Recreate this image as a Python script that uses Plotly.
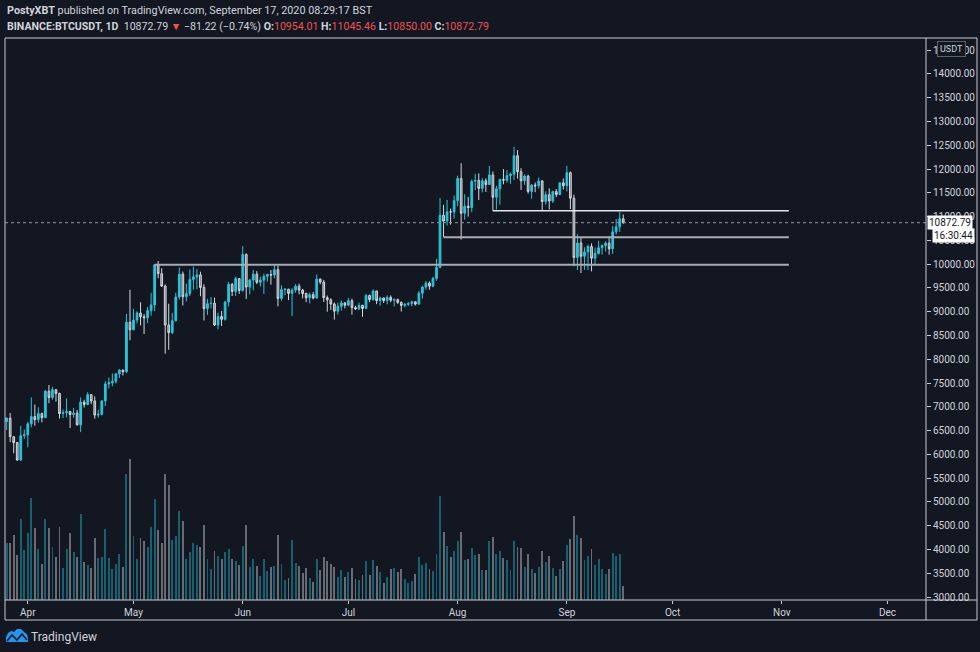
import pandas as pd
import plotly.graph_objects as go

# ---------------- data ----------------
start_date = "2020-03-26"
end_date = "2020-09-17"

opens = [6690, 6759, 6372, 6250, 5881, 6394,
         6410, 6642, 6794, 6734, 6857, 6772, 7329, 7197, 7361, 7283, 6858, 6876, 6903, 6838, 6868,
         6621, 7100, 7047, 7257, 7123, 6826, 6842, 7125, 7482, 7505, 7538, 7693, 7774, 7738, 8778,
         8620, 8826, 8972, 8894, 8873, 9022, 9143, 9986, 9800, 9539, 8722, 8561, 8810, 9309, 9791,
         9316, 9381, 9680, 9733, 9775, 9511, 9068, 9170, 9179, 8720, 8900, 8841, 9204, 9575, 9427, 9697,
         9448, 10202, 9518, 9666, 9789, 9621, 9666, 9746, 9782, 9772, 9885, 9280, 9465, 9474, 9386,
         9454, 9538, 9456, 9384, 9294, 9358, 9288, 9686, 9624, 9296, 9249, 9162, 9012, 9117, 9185,
         9138, 9232, 9086, 9058, 9135, 9069, 9342, 9257, 9437, 9235, 9288, 9234, 9303, 9242, 9255,
         9197, 9133, 9154, 9170, 9208, 9160, 9390, 9518, 9603, 9538, 9700, 9931, 11029, 10906, 11100, 11099,
         11335, 11801, 11071, 11219, 11191, 11744, 11762, 11594, 11754, 11675, 11878, 11410, 11584, 11780, 11767,
         11865, 11892, 12281, 11945, 11754, 11853, 11531, 11662, 11648, 11750, 11318, 11462, 11330, 11526, 11465, 11711,
         11650, 11924, 11388, 10141, 10446, 10166, 10257, 10373, 10126, 10224, 10345, 10392, 10442, 10324, 10680,
         10786, 10954.01]

highs = [6780, 6870, 6372, 6258, 6599, 6523,
         6679, 7198, 7048, 6990, 6878, 7355, 7459, 7420, 7370, 7295, 6944, 7177, 6903, 6978, 6933,
         7198, 7150, 7308, 7257, 7220, 6940, 7145, 7540, 7615, 7700, 7710, 7792, 7780, 8952, 9460,
         9059, 9010, 9200, 8950, 9100, 9395, 9990, 10067, 9914, 9574, 9168, 8978, 9398, 9930, 9845,
         9588, 9888, 9950, 9897, 9842, 9578, 9271, 9307, 9298, 8979, 9017, 9225, 9625, 9605, 9740, 9700,
         10380, 10228, 9690, 9881, 9854, 9735, 9802, 9800, 9877, 9992, 9964, 9557, 9494, 9480, 9494,
         9579, 9589, 9480, 9400, 9400, 9414, 9783, 9700, 9670, 9340, 9284, 9196, 9191, 9238, 9200,
         9292, 9274, 9125, 9190, 9145, 9375, 9360, 9470, 9440, 9317, 9298, 9345, 9343, 9279, 9275,
         9214, 9186, 9200, 9232, 9221, 9437, 9544, 9646, 9637, 9732, 10111, 11394, 11250, 11350, 11169, 11444,
         11861, 12123, 11473, 11414, 11780, 11900, 11909, 11808, 11806, 12065, 11950, 11650, 11800, 12000, 11979,
         11925, 12468, 12400, 12020, 11888, 11878, 11686, 11718, 11824, 11768, 11530, 11595, 11545, 11580, 11719, 11800,
         12067, 11950, 11462, 10627, 10565, 10355, 10410, 10438, 10350, 10492, 10412, 10482, 10578, 10800, 10950,
         11100, 11045.46]

lows = [6510, 6256, 6024, 5866, 5857, 6321,
        6150, 6570, 6603, 6666, 6674, 6765, 7077, 7150, 7111, 6754, 6765, 6780, 6555, 6773, 6605,
        6468, 6985, 7034, 7055, 6751, 6770, 6818, 7020, 7388, 7431, 7490, 7606, 7660, 7710, 8401,
        8613, 8753, 8712, 8531, 8760, 8918, 9011, 9705, 9520, 8117, 8200, 8528, 8800, 9256, 9130,
        9220, 9329, 9464, 9474, 9326, 8815, 8933, 9070, 8700, 8632, 8700, 8811, 9110, 9330, 9331, 9374,
        9421, 9266, 9365, 9450, 9581, 9531, 9372, 9633, 9570, 9704, 9113, 9232, 9351, 9245, 8910,
        9400, 9366, 9281, 9200, 9175, 9260, 9277, 9577, 9205, 9000, 9037, 8833, 8940, 9024, 9070,
        9118, 8939, 9037, 9040, 8893, 9055, 9203, 9231, 9160, 9125, 9186, 9157, 9200, 9113, 9165,
        9005, 9089, 9121, 9115, 9131, 9150, 9277, 9463, 9463, 9513, 9650, 9917, 10565, 10812, 10831, 10960,
        11220, 10518, 10936, 11000, 11093, 11562, 11351, 11512, 11521, 11666, 11125, 11150, 11250, 11680, 11715,
        11690, 11770, 11800, 11561, 11668, 11485, 11376, 11514, 11590, 11117, 11250, 11152, 11288, 11410, 11460, 11570,
        11530, 11160, 9960, 9875, 9813, 9882, 9875, 9850, 9992, 10200, 10200, 10266, 10200, 10216, 10625,
        10680, 10850.00]

closes = [6759, 6372, 6250, 5881, 6394, 6410,
          6642, 6794, 6734, 6857, 6772, 7329, 7197, 7361, 7283, 6858, 6876, 6903, 6838, 6868, 6621,
          7100, 7047, 7257, 7123, 6826, 6842, 7125, 7482, 7505, 7538, 7693, 7774, 7738, 8778, 8620,
          8826, 8972, 8894, 8873, 9022, 9143, 9986, 9800, 9539, 8722, 8561, 8810, 9309, 9791, 9316,
          9381, 9680, 9733, 9775, 9511, 9068, 9170, 9179, 8720, 8900, 8841, 9204, 9575, 9427, 9697, 9448,
          10202, 9518, 9666, 9789, 9621, 9666, 9746, 9782, 9772, 9885, 9280, 9465, 9474, 9386, 9454,
          9538, 9456, 9384, 9294, 9358, 9288, 9686, 9624, 9296, 9249, 9162, 9012, 9117, 9185, 9138,
          9232, 9086, 9058, 9135, 9069, 9342, 9257, 9437, 9235, 9288, 9234, 9303, 9242, 9255, 9197,
          9133, 9154, 9170, 9208, 9160, 9390, 9518, 9603, 9538, 9700, 9931, 11029, 10906, 11100, 11099, 11335,
          11801, 11071, 11219, 11191, 11744, 11762, 11594, 11754, 11675, 11878, 11410, 11584, 11780, 11767, 11865,
          11892, 12281, 11945, 11754, 11853, 11531, 11662, 11648, 11750, 11318, 11462, 11330, 11526, 11465, 11711, 11650,
          11924, 11388, 10141, 10446, 10166, 10257, 10373, 10126, 10224, 10345, 10392, 10442, 10324, 10680, 10786,
          10954, 10872.79]

# volume, thousands of BTC
volumes = [85.8, 85.8, 96.8, 66.8, 121.8, 75.3, 100.8, 153.3, 107.7, 76.8,
           53.3, 121.8, 107.3, 78.8, 64.2, 108.8, 48.3, 76.8, 99.8, 71.7,
           63.8, 128.3, 56.7, 51.8, 48.3, 93.3, 62.7, 63.8, 106.8, 62.7,
           45.8, 53.3, 68.3, 48.8, 188.3, 210.8, 95.3, 61.8, 93.3, 87.8,
           79.8, 109.8, 151.8, 104.3, 85.2, 188.3, 172.8, 89.3, 95.3, 133.8,
           118.8, 61.8, 71.7, 85.2, 81.8, 78.8, 112.8, 61.8, 46.2, 73.2,
           65.3, 60.8, 71.7, 76.8, 60.8, 58.2, 51.8, 80.3, 112.8, 48.8,
           60.8, 50.7, 35.3, 60.8, 42.8, 48.8, 50.3, 97.8, 53.3, 30.3,
           32.7, 89.3, 55.2, 51.3, 40.2, 48.3, 32.7, 26.3, 60.8, 44.3,
           64.2, 58.8, 53.3, 48.8, 33.8, 45.3, 34.2, 41.3, 48.3, 31.8,
           29.3, 36.8, 57.8, 37.2, 59.3, 51.3, 41.3, 25.2, 33.8, 45.8,
           48.3, 41.7, 46.2, 30.8, 25.2, 28.2, 38.3, 63.8, 51.8, 54.8,
           46.8, 43.2, 68.3, 155.3, 101.3, 80.3, 63.8, 73.2, 88.8, 101.3,
           59.3, 61.8, 78.3, 66.8, 68.7, 44.3, 44.3, 87.8, 94.2, 68.3,
           73.2, 63.3, 59.3, 44.3, 87.8, 78.8, 77.3, 48.8, 68.3, 45.8,
           40.8, 48.8, 72.8, 56.7, 66.3, 48.3, 35.3, 45.8, 58.8, 81.8,
           90.8, 126.3, 96.8, 93.3, 59.3, 65.3, 76.8, 51.8, 61.2, 46.8,
           38.3, 46.8, 70.2, 65.3, 68.3, 20.3]

# horizontal levels drawn on the chart: (start date, price)
level_starts = ["2020-08-11", "2020-07-28", "2020-05-07"]
level_prices = [11125, 10565, 9990]
level_end = "2020-11-03"

last_price = 10872.79
y_ticks = list(range(3000, 15000, 500))

dates = pd.date_range(start_date, end_date, freq="D")

# ---------------- styling helpers ----------------
BG = "#131722"
W, H = 980, 652
L, R, T, B = 5, 926, 38, 600
FONT = "Roboto"


def px(x):
    return (x - L) / (R - L)


def py(y):
    return (B - y) / (B - T)


UP = "#26c6da"
DOWN_LINE = "#d6d8de"
DOWN_FILL = "#7b7e88"
vol_colors = ["#17606f" if c >= o else "#686b74" for o, c in zip(opens, closes)]

fig = go.Figure()

fig.add_trace(go.Bar(
    x=dates, y=volumes, yaxis="y2",
    marker=dict(color=vol_colors, line=dict(width=0)),
    width=0.26 * 86400000, hoverinfo="skip", showlegend=False,
))

fig.add_trace(go.Candlestick(
    x=dates, open=opens, high=highs, low=lows, close=closes,
    increasing=dict(line=dict(color=UP, width=1), fillcolor=UP),
    decreasing=dict(line=dict(color=DOWN_LINE, width=1), fillcolor=DOWN_FILL),
    whiskerwidth=0, showlegend=False, hoverinfo="skip",
))

shapes = []
# level lines
level_styles = [("#e4e6eb", 1.5), ("#a9acb4", 2), ("#a9acb4", 2)]
for (s, p), (col, w) in zip(zip(level_starts, level_prices), level_styles):
    shapes.append(dict(type="line", xref="x", yref="y", x0=s, x1=level_end, y0=p, y1=p,
                       line=dict(color=col, width=w), layer="above"))
# last-price dotted line
shapes.append(dict(type="line", xref="paper", yref="y", x0=0, x1=1, y0=last_price, y1=last_price,
                   line=dict(color="#9598a1", width=1, dash="dot"), layer="above"))
# frame
FR = "#c9cbd1"
frame = [
    (L, T, 977, T), (L, T, L, 620), (977, T, 977, 620), (L, 620, 977, 620),
    (L, B, 977, B), (R, T, R, 620),
]
for x0, y0, x1, y1 in frame:
    shapes.append(dict(type="line", xref="paper", yref="paper", x0=px(x0), y0=py(y0),
                       x1=px(x1), y1=py(y1), line=dict(color=FR, width=1), layer="above"))


def path(points, close=True):
    s = "M" + " L".join(f"{px(a):.5f},{py(b):.5f}" for a, b in points)
    return s + (" Z" if close else "")


# TradingView logo (simple approximation)
logo = [(6, 642), (6, 637), (8, 633), (11, 631), (14, 632), (17, 629), (21, 629), (24, 632),
        (27, 634), (28, 638), (28, 642)]
shapes.append(dict(type="path", xref="paper", yref="paper", path=path(logo),
                   fillcolor="#2196f3", line=dict(width=0), layer="above"))
zig = [(7, 641), (12, 635), (17, 640), (22, 634), (27, 640)]
shapes.append(dict(type="path", xref="paper", yref="paper", path=path(zig, close=False),
                   line=dict(color=BG, width=1.6), layer="above"))

RED = "#ef5350"
TXT = "#d1d4dc"
annotations = [
    dict(xref="paper", yref="paper", x=px(5), y=py(11), xanchor="left", yanchor="middle",
         text="<b>PostyXBT</b> published on TradingView.com, September 17, 2020 08:29:17 BST",
         showarrow=False, font=dict(size=10.8, color=TXT, family=FONT)),
    dict(xref="paper", yref="paper", x=px(5), y=py(27), xanchor="left", yanchor="middle",
         text=("<b>BINANCE:BTCUSDT, 1D</b>  10872.79 <span style='color:%s'>▼</span> −81.22 (−0.74%%) "
               "<b>O:</b><span style='color:%s'>10954.01</span> <b>H:</b><span style='color:%s'>11045.46</span> "
               "<b>L:</b><span style='color:%s'>10850.00</span> <b>C:</b><span style='color:%s'>10872.79</span>")
         % (RED, RED, RED, RED, RED),
         showarrow=False, font=dict(size=10.6, color=TXT, family=FONT)),
    dict(xref="paper", yref="paper", x=px(29), y=py(637), xanchor="left", yanchor="middle",
         text="TradingView", showarrow=False, font=dict(size=12, color=TXT, family=FONT)),
    # price axis labels
    dict(xref="paper", yref="y", x=px(927), y=last_price, xanchor="left", yanchor="middle",
         text="10872.79", showarrow=False, bgcolor="#ffffff", borderpad=1,
         font=dict(size=10, color=BG, family=FONT)),
    dict(xref="paper", yref="paper", x=px(932), y=py(235), xanchor="left", yanchor="middle",
         text="16:30:44", showarrow=False, bgcolor="#ffffff", borderpad=1,
         font=dict(size=10, color=BG, family=FONT)),
    dict(xref="paper", yref="paper", x=px(951), y=py(49), xanchor="center", yanchor="middle",
         text="USDT", showarrow=False, bgcolor=BG, bordercolor="#5d606b", borderwidth=1, borderpad=2,
         font=dict(size=9, color=TXT, family=FONT)),
]

fig.update_layout(
    width=W, height=H, autosize=False,
    margin=dict(l=L, r=W - R, t=T, b=H - B, pad=0),
    paper_bgcolor=BG, plot_bgcolor=BG,
    showlegend=False, hovermode=False,
    shapes=shapes, annotations=annotations,
    bargap=0,
    xaxis=dict(
        type="date", range=["2020-03-25 12:43", "2020-12-11 22:19"],
        rangeslider=dict(visible=False),
        showgrid=False, zeroline=False, showline=False,
        dtick="M1", tick0="2020-04-01", tickformat="%b",
        ticks="outside", ticklen=3, tickcolor=FR,
        tickfont=dict(size=10, color=TXT, family=FONT),
    ),
    yaxis=dict(
        side="right", range=[2937, 14757],
        tickvals=y_ticks, ticktext=[f"{v:.2f}" for v in y_ticks],
        showgrid=False, zeroline=False, showline=False,
        ticks="outside", ticklen=4, tickcolor=FR,
        tickfont=dict(size=10, color=TXT, family=FONT),
    ),
    yaxis2=dict(overlaying="y", range=[0, 843], visible=False, showgrid=False),
)

fig.write_html("out.html", config={"displayModeBar": False},
               post_script="document.body.style.margin='0px';")
